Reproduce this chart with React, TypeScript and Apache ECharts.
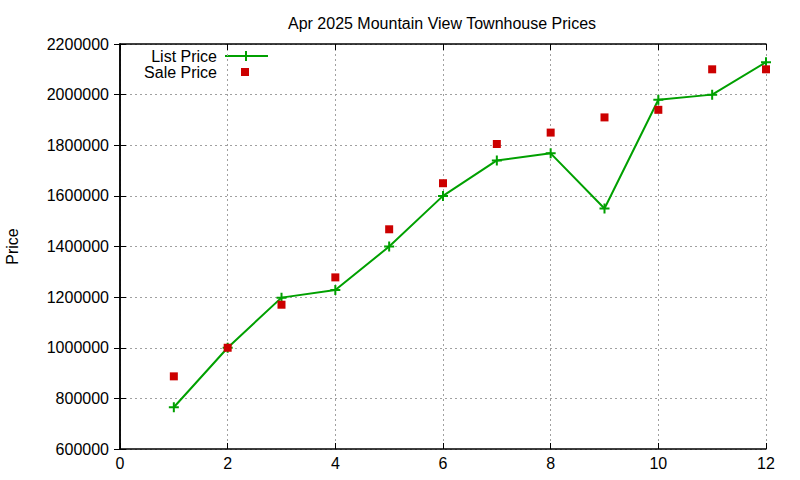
import React, { useEffect, useRef } from "react";
import * as echarts from "echarts";

const title = "Apr 2025 Mountain View Townhouse Prices";
const months = [1, 2, 3, 4, 5, 6, 7, 8, 9, 10, 11, 12];
const listPrice = [765000, 1000000, 1198000, 1228000, 1400000, 1600000, 1740000, 1768000, 1550000, 1980000, 2000000, 2128000];
const salePrice = [887000, 1000000, 1170000, 1278000, 1468000, 1650000, 1805000, 1850000, 1910000, 1940000, 2100000, 2100000];
const seriesNames = ["List Price", "Sale Price"];
const yAxisName = "Price";

const FONT = "Liberation Sans, Arial, sans-serif";
const PLUS = "path://M4,0H6V4H10V6H6V10H4V6H0V4H4Z";

export default function App() {
  const ref = useRef<HTMLDivElement>(null);
  useEffect(() => {
    if (!ref.current) return;
    const chart = echarts.init(ref.current, null, { renderer: "svg" });
    const splitLine = { show: true, lineStyle: { color: "#a0a0a0", type: [2, 3], width: 1 } };
    const tick = { show: true, inside: true, length: 6, lineStyle: { color: "#000", width: 1 } };
    const axisLine = { show: true, lineStyle: { color: "#000", width: 1.5 } };
    chart.setOption({
      animation: false,
      textStyle: { fontFamily: FONT },
      title: {
        text: title,
        left: 437,
        top: 10,
        textAlign: "center",
        textStyle: { fontSize: 16, fontWeight: "normal", color: "#000", fontFamily: FONT },
      },
      grid: { left: 120, right: 34, top: 44, bottom: 31, show: false, containLabel: false, outerBoundsMode: "none" },
      xAxis: [
        {
          type: "value", min: 0, max: 12, interval: 2,
          axisLine, axisTick: tick, splitLine,
          axisLabel: { fontSize: 16, color: "#000", margin: 6, fontFamily: FONT },
        },
        {
          type: "value", min: 0, max: 12, interval: 2, position: "top",
          axisLine, axisTick: tick, splitLine: { show: false }, axisLabel: { show: false },
        },
      ],
      yAxis: [
        {
          type: "value", min: 600000, max: 2200000, interval: 200000,
          name: yAxisName, nameLocation: "middle", nameGap: 100,
          nameTextStyle: { fontSize: 16, color: "#000", fontFamily: FONT },
          axisLine, axisTick: tick, splitLine,
          axisLabel: { fontSize: 16, color: "#000", margin: 11, fontFamily: FONT, formatter: (v: number) => String(v) },
        },
        {
          type: "value", min: 600000, max: 2200000, interval: 200000, position: "right",
          axisLine, axisTick: tick, splitLine: { show: false }, axisLabel: { show: false },
        },
      ],
      series: [
        {
          name: seriesNames[0], type: "line",
          data: months.map((m, i) => [m, listPrice[i]]),
          lineStyle: { color: "#00a000", width: 2 },
          itemStyle: { color: "#00a000" },
          symbol: PLUS, symbolSize: 10, showSymbol: true,
          clip: false, z: 3,
        },
        {
          name: seriesNames[1], type: "scatter",
          data: months.map((m, i) => [m, salePrice[i]]),
          itemStyle: { color: "#cc0000", opacity: 1 },
          symbol: "rect", symbolSize: 8,
          clip: false, z: 4,
        },
      ],
      graphic: [
        { type: "text", x: 217, y: 56, style: { text: seriesNames[0], textAlign: "right", textVerticalAlign: "middle", fontSize: 16, fill: "#000", fontFamily: FONT } },
        { type: "line", shape: { x1: 225, y1: 56, x2: 268, y2: 56 }, style: { stroke: "#00a000", lineWidth: 2 } },
        { type: "line", shape: { x1: 246, y1: 51, x2: 246, y2: 61 }, style: { stroke: "#00a000", lineWidth: 2 } },
        { type: "text", x: 217, y: 72, style: { text: seriesNames[1], textAlign: "right", textVerticalAlign: "middle", fontSize: 16, fill: "#000", fontFamily: FONT } },
        { type: "rect", shape: { x: 241, y: 68, width: 8, height: 8 }, style: { fill: "#cc0000" } },
      ],
    });
    return () => chart.dispose();
  }, []);
  return <div ref={ref} style={{ width: 800, height: 480, position: "absolute", left: 0, top: 0 }} />;
}
